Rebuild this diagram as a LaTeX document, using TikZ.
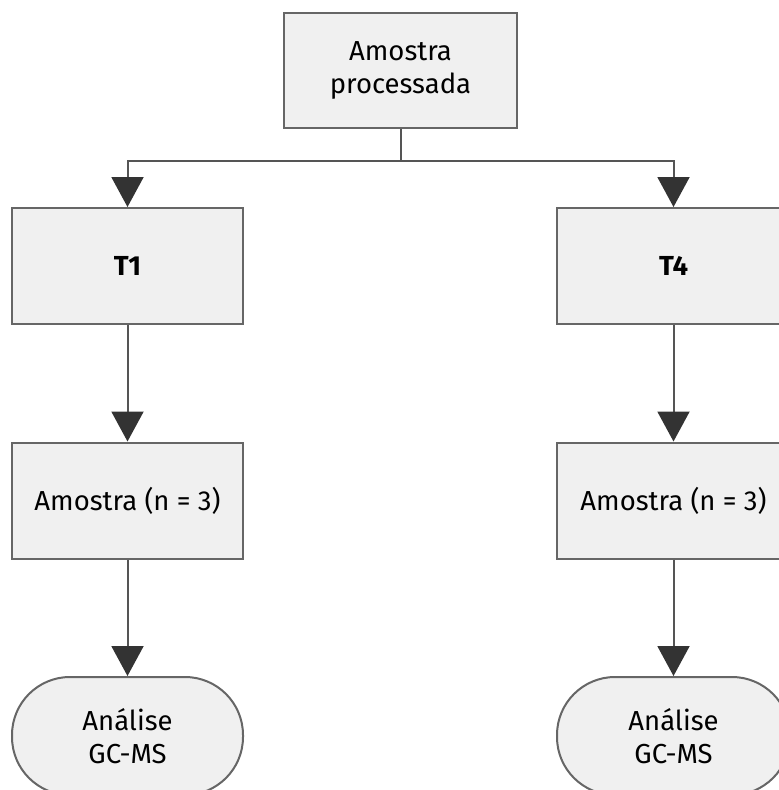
\documentclass[tikz,border=0pt]{standalone}
\usepackage{fontspec}
\setmainfont{Fira Sans}
\usetikzlibrary{arrows.meta}
\definecolor{boxfill}{HTML}{F0F0F0}
\definecolor{boxline}{HTML}{666666}
\definecolor{linkcol}{HTML}{555555}
\definecolor{tipcol}{HTML}{333333}
\tikzset{
  x=1pt, y=-1pt,
  box/.style={draw=boxline, line width=2pt, fill=boxfill, minimum width=231pt, minimum height=116pt, inner sep=0pt, align=center, font=\fontsize{27.5}{33}\selectfont, text=black},
  stadium/.style={box, rounded corners=58pt},
  link/.style={draw=linkcol, line width=2pt, -{Triangle[width=32pt,length=30pt,fill=tipcol,color=tipcol]}},
  plain/.style={draw=linkcol, line width=2pt}
}
\begin{document}
\begin{tikzpicture}
\useasboundingbox (0,0) rectangle (779,790);
\clip (0,0) rectangle (779,790);
\fill[white] (0,0) rectangle (779,790);
\node[box, minimum width=233pt, minimum height=115pt] (top) at (400.5,70.5) {Amostra\\processada};
\node[box] (t1) at (127.5,266) {\bfseries T1};
\node[box, minimum width=233pt] (t4) at (673.5,266) {\bfseries T4};
\node[box] (a1) at (127.5,500.5) {Amostra (n = 3)};
\node[box, minimum width=233pt] (a4) at (673.5,500.5) {Amostra (n = 3)};
\node[stadium, minimum height=118pt] (g1) at (127.5,736) {Análise\\GC-MS};
\node[stadium, minimum width=233pt, minimum height=118pt] (g4) at (673.5,736) {Análise\\GC-MS};
\coordinate (split) at (400.5,161);
\draw[plain] (top.south) -- (split);
\draw[link] (split) -| (t1.north);
\draw[link] (split) -| (t4.north);
\draw[link] (t1) -- (a1);
\draw[link] (t4) -- (a4);
\draw[link] (a1) -- (g1);
\draw[link] (a4) -- (g4);
\end{tikzpicture}
\end{document}
